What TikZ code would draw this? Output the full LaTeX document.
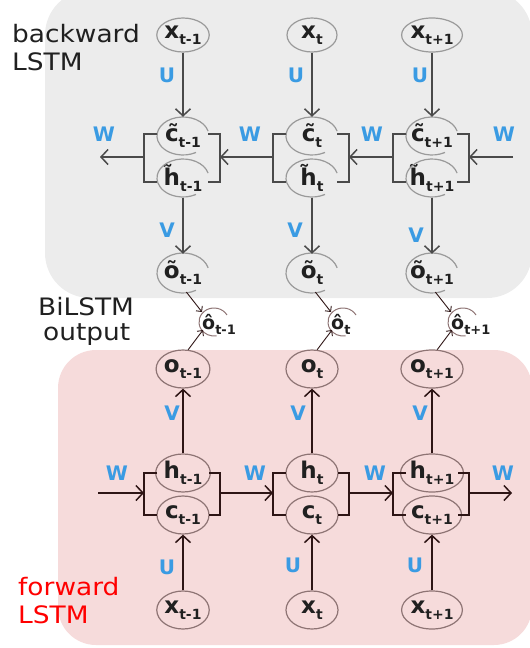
\documentclass[tikz,border=0pt]{standalone}
\usepackage{fontspec}
\setmainfont{DejaVu Sans}
\newfontfamily\capfont[FakeStretch=1.1]{DejaVu Sans}
\usetikzlibrary{shapes.geometric,arrows.meta,calc}
\definecolor{bpanel}{HTML}{ECECEC}
\definecolor{fpanel}{HTML}{F6DBDB}
\definecolor{wblue}{HTML}{3A9BE3}
\definecolor{bedge}{HTML}{9A9A9A}
\definecolor{fedge}{HTML}{8E7474}
\definecolor{bdark}{HTML}{4A4A4A}
\definecolor{fdark}{HTML}{2E1515}
\definecolor{ntext}{HTML}{202020}
\newcommand{\nlab}[2]{{\fontsize{23}{23}\selectfont\bfseries #1}\raisebox{-6pt}{\fontsize{14}{14}\selectfont\bfseries #2}}
\newcommand{\hlab}[2]{{\fontsize{19}{19}\selectfont\bfseries #1}\raisebox{-5pt}{\fontsize{13}{13}\selectfont\bfseries #2}}
\tikzset{
  bnode/.style={ellipse, draw=bedge, line width=1.2pt, inner sep=0pt, minimum width=50pt, minimum height=34pt, text=ntext},
  fnode/.style={ellipse, draw=fedge, line width=1.2pt, inner sep=0pt, minimum width=52pt, minimum height=38pt, text=ntext},
  gnode/.style={ellipse, inner sep=0pt, minimum width=52pt, minimum height=38pt, text=ntext},
  barc/.style={draw=bedge, line width=1.2pt},
  bline/.style={draw=bdark, line width=1.5pt},
  fline/.style={draw=fdark, line width=1.5pt},
  barrow/.style={draw=bdark, line width=1.5pt, -{Straight Barb[length=7pt,width=15pt]}},
  farrow/.style={draw=fdark, line width=1.5pt, -{Straight Barb[length=7pt,width=15pt]}},
  sarrow/.style={draw=fdark, line width=0.9pt, -{Straight Barb[length=4pt,width=8pt]}},
  wlab/.style={text=wblue, font=\fontsize{20}{20}\selectfont\bfseries, inner sep=0pt},
  capt/.style={font=\capfont\fontsize{24}{24}\selectfont, inner sep=0pt}
}
\begin{document}
\begin{tikzpicture}[x=1pt,y=-1pt]
\useasboundingbox (0,0) rectangle (530,648);
% panels
\fill[bpanel, rounded corners=45pt] (45,-10) rectangle (532,298);
\fill[fpanel, rounded corners=38pt] (58,350) rectangle (532,645);
% captions
\node[capt, text=ntext, anchor=base west] (cap1) at (12,42) {backward};
\node[capt, text=ntext, anchor=base west] (cap2) at (12,70) {LSTM};
\node[capt, text=ntext, anchor=base west] (cap3) at (38,315) {BiLSTM};
\node[capt, text=ntext, anchor=base west] (cap4) at (43,340) {output};
\node[capt, text=red, anchor=base west] (cap5) at (18,595) {forward};
\node[capt, text=red, anchor=base west] (cap6) at (18,623) {LSTM};
\foreach \i/\X/\s in {1/183/t-1, 2/312/t, 3/432/t+1}{
  % backward nodes
  \node[bnode] (xb\i) at (\X,35) {\nlab{x}{\s}};
  \node[gnode] (cb\i) at (\X,136) {\nlab{\~{c}}{\s}};
  \node[gnode] (hb\i) at (\X,178) {\nlab{\~{h}}{\s}};
  \node[gnode] (ob\i) at (\X,273) {\nlab{õ}{\s}};
  \draw[barc] (cb\i.center) ++(-15:26 and 19) arc[start angle=-15, end angle=-300, x radius=26, y radius=19];
  \draw[barc] (hb\i.center) ++(-15:26 and 19) arc[start angle=-15, end angle=-300, x radius=26, y radius=19];
  \draw[barc] (ob\i.center) ++(-15:26 and 20) arc[start angle=-15, end angle=-300, x radius=26, y radius=20];
  % brackets backward
  \draw[bline] (\X-26,134) -- (\X-39,134) -- (\X-39,182) -- (\X-26,182);
  \draw[bline] (\X+25,134) -- (\X+37,134) -- (\X+37,182) -- (\X+25,182);
  \coordinate (bl\i) at (\X-39,157);
  \coordinate (br\i) at (\X+37,157);
  \draw[barrow] (xb\i) -- (cb\i);
  \draw[barrow] (hb\i) -- (ob\i);
  % hat outputs
  \coordinate (oh\i) at ({\X+31},322);
  \node[anchor=west, inner sep=0pt, text=ntext] (ohl\i) at ({\X+19},324) {\hlab{ô}{\s}};
  \draw[draw=fedge, line width=1pt] (oh\i) ++(-30:15 and 14) arc[start angle=-30, end angle=-280, x radius=15, y radius=14];
  % forward nodes
  \node[fnode] (of\i) at (\X,369) {\nlab{o}{\s}};
  \node[fnode] (hf\i) at (\X,473) {\nlab{h}{\s}};
  \node[fnode] (cf\i) at (\X,515) {\nlab{c}{\s}};
  \node[fnode] (xf\i) at (\X,610) {\nlab{x}{\s}};
  \draw[fline] (\X-26,473) -- (\X-39,473) -- (\X-39,515) -- (\X-26,515);
  \draw[fline] (\X+26,473) -- (\X+37,473) -- (\X+37,515) -- (\X+26,515);
  \coordinate (fl\i) at (\X-39,493);
  \coordinate (fr\i) at (\X+37,493);
  \draw[farrow] (hf\i) -- (of\i);
  \draw[farrow] (xf\i) -- (cf\i);
  \draw[sarrow] (ob\i.-80) -- ($(oh\i)+(-12,-10)$);
  \draw[sarrow] (of\i.75) -- ($(oh\i)+(-11,8)$);
}
% horizontal flows
\coordinate (bin) at (513,157);
\coordinate (bout) at (100,157);
\draw[barrow] (bin) -- (br3);
\draw[barrow] (bl3) -- (br2);
\draw[barrow] (bl2) -- (br1);
\draw[barrow] (bl1) -- (bout);
\coordinate (fin) at (98,493);
\coordinate (fout) at (512,493);
\draw[farrow] (fin) -- (fl1);
\draw[farrow] (fr1) -- (fl2);
\draw[farrow] (fr2) -- (fl3);
\draw[farrow] (fr3) -- (fout);
% weight labels
\node[wlab] (ub1) at (167,75) {U};
\node[wlab] (ub2) at (296,75) {U};
\node[wlab] (ub3) at (420,75) {U};
\node[wlab] (vb1) at (167,230) {V};
\node[wlab] (vb2) at (295,230) {V};
\node[wlab] (vb3) at (416,235) {V};
\node[wlab] (wb1) at (104,134) {W};
\node[wlab] (wb2) at (250,134) {W};
\node[wlab] (wb3) at (372,134) {W};
\node[wlab] (wb4) at (504,134) {W};
\node[wlab] (vf1) at (172,413) {V};
\node[wlab] (vf2) at (298,413) {V};
\node[wlab] (vf3) at (420,413) {V};
\node[wlab] (uf1) at (167,567) {U};
\node[wlab] (uf2) at (293,565) {U};
\node[wlab] (uf3) at (415,565) {U};
\node[wlab] (wf1) at (117,473) {W};
\node[wlab] (wf2) at (255,473) {W};
\node[wlab] (wf3) at (375,473) {W};
\node[wlab] (wf4) at (503,473) {W};
\end{tikzpicture}
\end{document}
